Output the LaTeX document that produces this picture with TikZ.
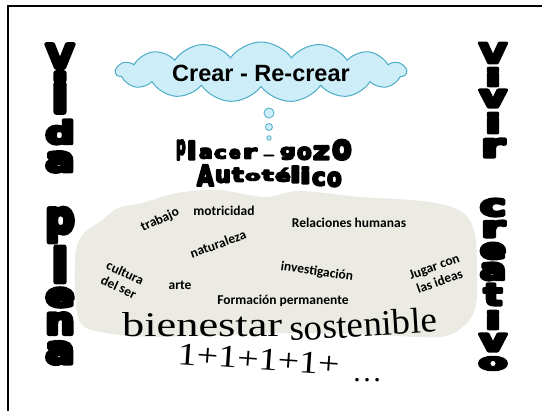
\documentclass[tikz,border=0pt]{standalone}
\usepackage{fontspec}
\usetikzlibrary{shapes.symbols}
\newfontfamily\heavy{DejaVu Sans Bold}
\newfontfamily\arialf{Liberation Sans}
\newfontfamily\timesf{Liberation Serif}
\newfontfamily\calf{Carlito}
\definecolor{blobc}{RGB}{236,235,227}
\definecolor{cloudedge}{RGB}{75,172,198}
\definecolor{cloudfill}{RGB}{205,238,248}
\newcounter{lc}
\newdimen\fatd \newdimen\lw \newdimen\lh
\makeatletter\let\mystrip\strip@pt\makeatother
% heavy weight: glyphs filled and stroked (PDF text render mode 2)
\newcommand\hl[3]{\lw=#1pt\advance\lw by -\fatd\lh=#2pt\advance\lh by -\fatd
  \resizebox*{\lw}{\lh}{\heavy\fontsize{28}{28}\selectfont
  \special{pdf:literal direct 0 0 0 RG \mystrip\fatd\space w 1 j 2 Tr}#3\special{pdf:literal direct 0 Tr}}}
% centred heavy letter: cx, ytop, width, height, char
\newcommand\cl[5]{\stepcounter{lc}\edef\lcname{cl\arabic{lc}}%
  \node[inner sep=0pt,outer sep=0pt,anchor=north] (\lcname) at (#1,#2) {\fatd=3pt\hl{#3}{#4}{#5}};}
% heavy letter by top-left corner: x, ytop, width, height, char
\newcommand\wl[5]{\stepcounter{lc}\edef\lcname{wl\arabic{lc}}%
  \node[inner sep=0pt,outer sep=0pt,anchor=north west] (\lcname) at (#1,#2) {\fatd=2.3pt\hl{#3}{#4}{#5}};}
\tikzset{
  word/.style={inner sep=0pt,font=\calf\bfseries\fontsize{13.5}{15.5}\selectfont,align=center},
  bubble/.style={circle,draw=cloudedge,fill=cloudfill,line width=0.8pt,inner sep=0pt}
}
\begin{document}
\begin{tikzpicture}[x=1pt,y=-1pt]
\useasboundingbox (0,0) rectangle (542,411);
\fill[white] (0,0) rectangle (542,411);
% frame
\draw[line width=1.6pt] (8,411) -- (8,6) -- (542,6);
% grey blob
\fill[blobc] plot[smooth cycle, tension=0.55] coordinates {
 (100,222) (118,208) (142,203) (177,193) (218,190) (265,197) (300,191)
 (360,197) (412,200) (445,205) (466,215) (475,235) (477,270) (476,305)
 (465,325) (440,337) (380,335) (300,333) (220,335) (150,337) (100,332)
 (80,322) (75,290) (76,250) (85,232)};
% cloud
\node[cloud, cloud puffs=15, cloud puff arc=110, aspect=4.6, draw=cloudedge,
  line width=1pt, fill=cloudfill, minimum width=290pt, minimum height=60pt,
  inner sep=0pt] (cloud) at (261,72) {};
\node[inner sep=0pt] (crear) at (261,73) {\arialf\bfseries\fontsize{23.5}{25}\selectfont Crear - Re-crear};
\node[bubble,minimum size=10pt] (b1) at (269,113) {};
\node[bubble,minimum size=7pt] (b2) at (269,127) {};
\node[bubble,minimum size=4.5pt] (b3) at (269,138) {};
% placer - gozo
\wl{176}{140}{12}{22}{p}
\wl{187}{141}{12}{21}{l}
\wl{199}{148}{16}{13}{a}
\wl{214}{149}{15}{12}{c}
\wl{229}{149}{14}{12}{e}
\wl{243}{148}{16}{13}{r}
\wl{263}{155}{14}{5}{–}
\wl{280}{147}{18}{15}{g}
\wl{297}{147}{17}{15}{o}
\wl{313}{146}{19}{16}{z}
\wl{332}{140}{22}{22}{o}
% Autotelico
\wl{197}{165}{19}{23}{A}
\wl{215}{170}{18}{15}{u}
\wl{232}{168}{14}{16}{t}
\wl{245}{173}{18}{10}{o}
\wl{262}{170}{14}{13}{t}
\wl{275}{168}{18}{16}{é}
\wl{290}{166}{13}{19}{l}
\wl{300}{167}{13}{19}{i}
\wl{312}{172}{16}{16}{c}
\wl{327}{172}{17}{17}{o}
% left column: Vida plena
\cl{60}{44}{31}{27}{V}
\cl{60}{73}{19}{42}{i}
\cl{60}{120}{32}{27}{d}
\cl{60}{152}{32}{23}{a}
\cl{60}{208}{32}{37}{p}
\cl{60}{247}{19}{38}{l}
\cl{60}{288}{32}{22}{e}
\cl{60}{313}{32}{24}{n}
\cl{60}{342}{32}{25}{a}
% right column: Vivir creativo
\cl{493}{43}{30}{23}{V}
\cl{493}{68}{18}{21}{i}
\cl{493}{90}{30}{20}{v}
\cl{493}{113}{18}{23}{i}
\cl{493}{139}{26}{21}{r}
\cl{493}{199}{29}{20}{c}
\cl{493}{221}{26}{19}{r}
\cl{493}{243}{29}{19}{e}
\cl{493}{263}{29}{20}{a}
\cl{493}{284}{21}{24}{t}
\cl{493}{311}{18}{21}{i}
\cl{493}{334}{30}{20}{v}
\cl{493}{357}{32}{16}{o}
% words in blob
\node[word,rotate=25] (trabajo) at (160,220) {trabajo};
\node[word] (motricidad) at (224,211) {motricidad};
\node[word] (relaciones) at (349,223) {Relaciones humanas};
\node[word,rotate=20] (naturaleza) at (218,244) {naturaleza};
\node[word,rotate=-25] (cultura) at (122,280) {cultura\\del ser};
\node[word] (arte) at (180,285) {arte};
\node[word,rotate=-8] (investigacion) at (317,272) {investigación};
\node[word] (formacion) at (283,301) {Formación permanente};
\node[word,rotate=20] (jugar) at (437,274) {Jugar con\\las ideas};
% bienestar sostenible
\node[inner sep=0pt,anchor=base west] (bien) at (122,337) {\resizebox{160pt}{24pt}{\timesf bienestar}};
\node[inner sep=0pt,anchor=base west,rotate=3.5] (sost) at (290,341) {\resizebox{148pt}{25pt}{\timesf sostenible}};
% 1+1+1+1+ ...
\node[inner sep=0pt,anchor=base west,rotate=-4] (uno) at (177,364) {\resizebox{162pt}{21pt}{\timesf 1+1+1+1+}};
\node[inner sep=0pt,anchor=base west] (dots) at (352,382) {\timesf\fontsize{30}{30}\selectfont …};
\end{tikzpicture}
\end{document}
